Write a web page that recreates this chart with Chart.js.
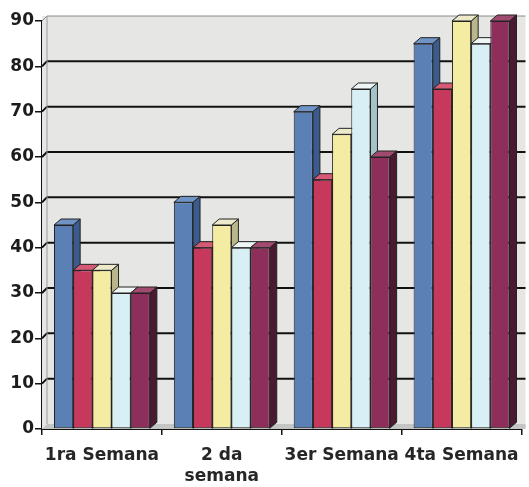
<!DOCTYPE html>
<html>
<head>
<meta charset="utf-8">
<script src="https://cdn.jsdelivr.net/npm/chart.js@4.4.1/dist/chart.umd.min.js"></script>
<style>
    html, body { margin: 0; padding: 0; background: #ffffff; }
    #wrap { width: 529px; height: 487px; }
</style>
</head>
<body>
<div id="wrap"><canvas id="weekChart" width="529" height="487"></canvas></div>
<script>
// Chart data
const categories = ['1ra Semana', ['2 da', 'semana'], '3er Semana', '4ta Semana'];
const serie1 = [45, 50, 70, 85];
const serie2 = [35, 40, 55, 75];
const serie3 = [35, 45, 65, 90];
const serie4 = [30, 40, 75, 85];
const serie5 = [30, 40, 60, 90];
const yMin = 0;
const yMax = 90;
const yStep = 10;

// front / top / side colours for each series
const palette = [
    { front: '#5b80b6', top: '#6f93c4', side: '#3a5b8c' },
    { front: '#c6385c', top: '#d45a76', side: '#86223e' },
    { front: '#f4eca2', top: '#eceacb', side: '#b9b78a' },
    { front: '#d7eff5', top: '#eef6f6', side: '#a4c3c8' },
    { front: '#8e2e5a', top: '#a04a70', side: '#4a1b30' }
];

const DX = 7;   // depth offset to the right
const DY = 6;   // depth offset upwards

const threeD = {
    id: 'threeD',
    beforeDatasetsDraw(chart) {
        const { ctx, chartArea, scales } = chart;
        const y = scales.y;
        const left = chartArea.left, right = chartArea.right, base = chartArea.bottom;
        const wx = 5, wy = 5;

        ctx.save();
        // back wall + floor background
        ctx.fillStyle = '#e6e6e5';
        ctx.fillRect(left, chartArea.top - wy, right - left + 4, base - chartArea.top + wy);

        // back wall grid lines
        for (let v = yMin + yStep; v <= yMax; v += yStep) {
            const py = y.getPixelForValue(v);
            ctx.beginPath();
            ctx.moveTo(left, py);
            ctx.lineTo(left + wx, py - wy);
            ctx.lineTo(right + 4, py - wy);
            ctx.strokeStyle = v === yMax ? '#8a8a8a' : '#111111';
            ctx.lineWidth = v === yMax ? 1 : 2;
            ctx.stroke();
        }
        // back wall left edge
        ctx.beginPath();
        ctx.moveTo(left + wx, chartArea.top - wy);
        ctx.lineTo(left + wx, base - wy);
        ctx.strokeStyle = '#9a9a9a';
        ctx.lineWidth = 1;
        ctx.stroke();
        // floor
        ctx.beginPath();
        ctx.moveTo(left, base);
        ctx.lineTo(left + wx, base - wy);
        ctx.lineTo(right + 4, base - wy);
        ctx.lineTo(right + 4, base);
        ctx.closePath();
        ctx.fillStyle = '#c4c6c4';
        ctx.fill();

        // top and side faces, bar by bar from left to right
        const metas = chart.getSortedVisibleDatasetMetas();
        const n = categories.length;
        ctx.strokeStyle = '#222222';
        ctx.lineWidth = 1;
        for (let i = 0; i < n; i++) {
            metas.forEach((meta, d) => {
                const el = meta.data[i];
                const p = el.getProps(['x', 'y', 'base', 'width'], true);
                const l = p.x - p.width / 2, r = p.x + p.width / 2;
                const col = palette[d];
                // side
                ctx.beginPath();
                ctx.moveTo(r, p.y);
                ctx.lineTo(r + DX, p.y - DY);
                ctx.lineTo(r + DX, p.base - DY);
                ctx.lineTo(r, p.base);
                ctx.closePath();
                ctx.fillStyle = col.side;
                ctx.fill();
                ctx.stroke();
                // top
                ctx.beginPath();
                ctx.moveTo(l, p.y);
                ctx.lineTo(l + DX, p.y - DY);
                ctx.lineTo(r + DX, p.y - DY);
                ctx.lineTo(r, p.y);
                ctx.closePath();
                ctx.fillStyle = col.top;
                ctx.fill();
                ctx.stroke();
            });
        }
        ctx.restore();
    }
};

const seriesData = [serie1, serie2, serie3, serie4, serie5];

const chart = new Chart(document.getElementById('weekChart'), {
    type: 'bar',
    data: {
        labels: categories,
        datasets: seriesData.map((values, d) => ({
            label: 'Serie ' + (d + 1),
            data: values,
            backgroundColor: palette[d].front,
            borderColor: '#222222',
            borderWidth: 1,
            borderSkipped: false,
            categoryPercentage: 0.8,
            barPercentage: 1.0
        }))
    },
    options: {
        responsive: false,
        animation: false,
        layout: {
            padding: { top: 21, right: 4, left: 0, bottom: 0 }
        },
        plugins: {
            legend: { display: false },
            tooltip: { enabled: false }
        },
        scales: {
            x: {
                afterFit: (scale) => { scale.height = 58; },
                grid: {
                    offset: true,
                    drawOnChartArea: false,
                    tickLength: 6,
                    color: '#111111',
                    lineWidth: 1.5
                },
                border: { display: true, color: '#111111', width: 2 },
                ticks: {
                    autoSkip: false,
                    maxRotation: 0,
                    padding: 10,
                    color: '#262626',
                    font: { family: "'DejaVu Sans', sans-serif", size: 17, weight: 'bold', lineHeight: 1.25 }
                }
            },
            y: {
                min: yMin,
                max: yMax,
                afterFit: (scale) => { scale.width = 42; },
                grid: {
                    drawOnChartArea: false,
                    tickLength: 7,
                    color: '#111111',
                    lineWidth: 1.5
                },
                border: { display: true, color: '#111111', width: 2 },
                ticks: {
                    stepSize: yStep,
                    padding: 1,
                    color: '#1c1c1c',
                    font: { family: "'DejaVu Sans', sans-serif", size: 17, weight: 'bold' }
                }
            }
        }
    },
    plugins: [threeD]
});
</script>
</body>
</html>
